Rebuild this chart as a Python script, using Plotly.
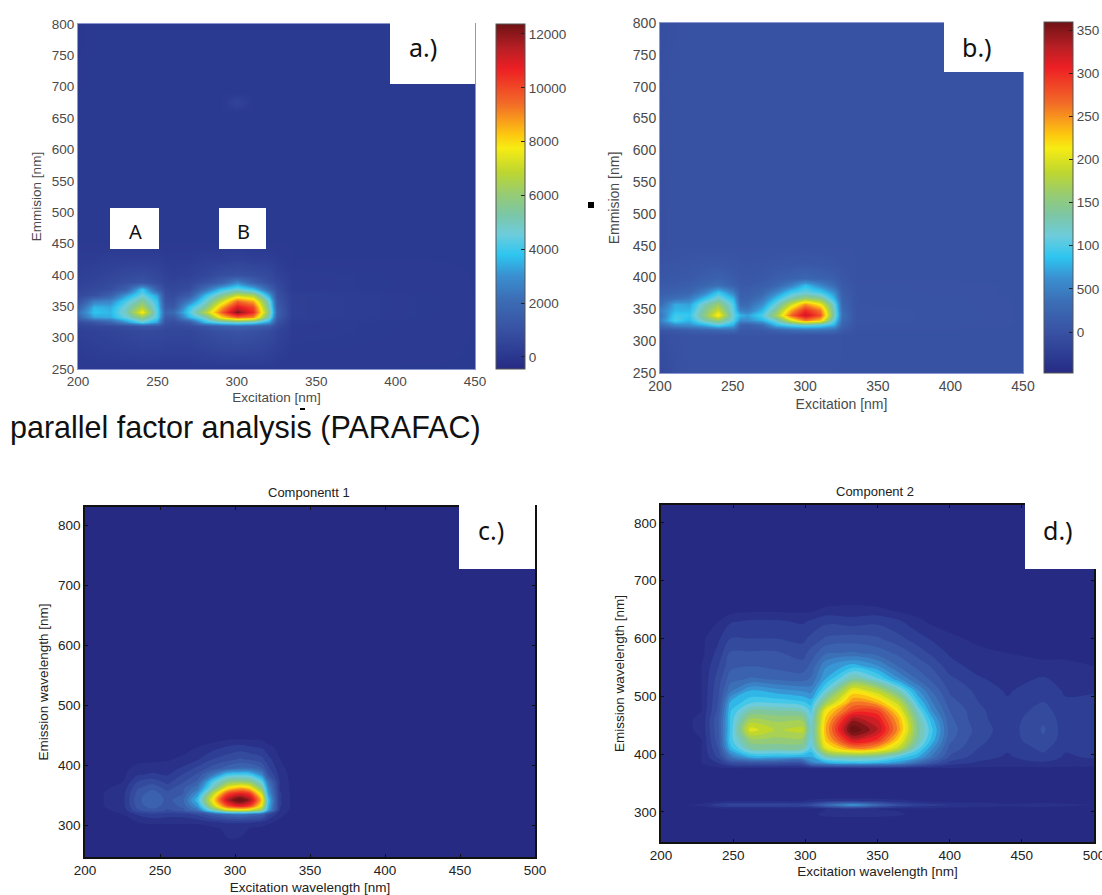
import plotly.graph_objects as go

W, H = 1102, 895

# ---------- colour ramp ----------
RAMP = [[0.00,"#272a83"],[0.04,"#2b3990"],[0.12,"#3953a4"],[0.20,"#3b6db5"],[0.27,"#3a8fd0"],
        [0.33,"#2dc5f0"],[0.39,"#6dccdc"],[0.45,"#7cc6a4"],[0.51,"#98cc70"],[0.57,"#bdd630"],
        [0.64,"#f7ec13"],[0.68,"#fdc70f"],[0.72,"#f99d1c"],[0.77,"#f26a27"],[0.87,"#ed1f24"],
        [0.93,"#b71f25"],[1.00,"#6f1214"]]

# ---------- panel a / b grids ----------
ex_ab = [200,210,220,230,240,250,255,260,270,280,290,300,310,320,325,335,450]
em_ab = [250,310,318,325,333,341,349,358,368,378,388,400,425,450,660,675,690,800]

a_k = [
 [.1]*17,
 [.3,.4,.5,.6,.7,.7,.6,.6,.6,.8,1.0,1.1,1.0,.8,.5,.2,.1],
 [.5,.6,.7,.9,1.2,1.1,.8,.7,.8,1.2,1.6,1.8,1.6,1.3,.7,.2,.1],
 [.8,1.2,1.8,3.0,4.4,3.2,1.0,.9,1.4,3.7,4.6,5.0,4.6,3.2,1.0,.2,.1],
 [1.8,3.3,3.4,4.6,6.0,4.2,1.4,1.3,3.6,5.0,8.0,9.5,9.0,4.8,1.4,.3,.1],
 [2.2,3.8,3.6,5.0,7.8,4.3,1.8,2.0,4.2,6.6,9.5,12.2,10.5,5.5,1.6,.3,.1],
 [1.6,3.6,3.4,4.8,6.6,4.1,1.4,1.3,3.8,5.5,8.6,11.0,10.0,5.0,1.4,.3,.1],
 [1.0,2.6,2.8,4.2,5.6,3.8,1.1,1.0,2.6,4.6,7.0,9.5,8.6,4.6,1.2,.3,.1],
 [.7,1.0,1.6,3.2,4.6,3.2,.9,.8,1.4,3.7,5.4,7.0,6.5,3.3,1.0,.3,.1],
 [.5,.7,.9,1.6,3.9,1.6,.7,.6,.8,2.2,3.8,4.6,3.8,1.8,.8,.2,.1],
 [.4,.5,.7,.9,1.1,.8,.5,.5,.6,1.0,1.6,2.8,1.6,.9,.6,.2,.1],
 [.3,.4,.5,.7,.8,.6,.4,.3,.4,.6,.9,1.0,.9,.7,.4,.2,.1],
 [.2,.2,.3,.3,.3,.3,.2,.2,.2,.3,.3,.4,.3,.3,.2,.1,.1],
 [.1]*17,
 [.1]*17,
 [.1,.1,.1,.1,.1,.1,.1,.1,.1,.1,.1,.5,.1,.1,.1,.1,.1],
 [.1]*17,
 [.0,.1,.1,.1,.1,.1,.1,.1,.1,.1,.1,.1,.1,.1,.1,.1,.1],
]

b_k = [
 [-.1,-.03,0,0,0,0,0,0,0,0,0,0,0,0,0,0,0],
 [-.05,0,.02,.02,.02,.02,.02,.02,.02,.02,.02,.02,.02,.02,0,0,0],
 [.05,.1,.15,.2,.25,.3,.1,.08,.1,.2,.3,.35,.35,.3,.1,0,0],
 [.3,.55,.6,.75,1.0,.75,.2,.15,.3,.8,1.0,1.1,1.0,.75,.2,.02,0],
 [.5,1.0,.8,1.3,1.6,1.05,.6,.6,.8,1.2,2.0,2.6,2.3,1.05,.3,.03,0],
 [.4,.95,.9,1.5,2.2,1.1,.8,.7,1.0,1.7,2.7,3.25,2.8,1.25,.35,.03,0],
 [.5,.8,.8,1.4,1.9,1.05,.5,.45,.8,1.45,2.4,3.0,2.6,1.2,.3,.03,0],
 [.3,.75,.7,1.25,1.6,1.0,.3,.3,.6,1.15,1.9,2.5,2.1,1.1,.25,.02,0],
 [.25,.35,.45,.85,1.2,.8,.2,.2,.4,.85,1.3,1.6,1.45,.8,.2,.02,0],
 [.15,.2,.25,.5,.9,.5,.15,.15,.25,.55,.95,1.1,.95,.6,.15,.01,0],
 [.1,.12,.15,.25,.35,.2,.1,.1,.15,.25,.5,.85,.55,.3,.1,.01,0],
 [.05,.08,.1,.15,.2,.12,.07,.06,.08,.15,.2,.25,.2,.15,.05,0,0],
 [.02,.03,.04,.05,.05,.04,.03,.02,.03,.04,.05,.06,.05,.03,.02,0,0],
 [-.03,0,0,0,0,0,0,0,0,0,0,0,0,0,0,0,0],
 [-.02,0,0,0,0,0,0,0,0,0,0,0,0,0,0,0,0],
 [-.03,0,0,0,0,0,0,0,0,0,0,0,0,0,0,0,0],
 [-.02,0,0,0,0,0,0,0,0,0,0,0,0,0,0,0,0],
 [-.05,-.02,0,0,0,0,0,0,0,0,0,0,0,0,0,0,0],
]

# ---------- panel c ----------
ex_c = [200,225,235,245,255,265,275,285,295,303,310,318,322,330,340,500]
em_c = [247,295,305,318,325,332,342,352,362,372,385,395,410,430,445,460,830]
c_z = [
 [0]*16,
 [0,0,0,0,0,0,0,.01,.03,.03,.02,.01,0,0,0,0],
 [0,0,.02,.03,.03,.03,.03,.05,.06,.06,.06,.05,.03,.01,0,0],
 [0,.02,.06,.08,.07,.07,.1,.15,.2,.22,.2,.17,.1,.03,0,0],
 [0,.03,.12,.15,.12,.15,.22,.42,.58,.6,.58,.48,.3,.05,0,0],
 [0,.04,.14,.18,.14,.17,.28,.55,.78,.85,.8,.6,.33,.06,0,0],
 [0,.04,.15,.19,.15,.18,.33,.62,.9,1.0,.92,.66,.35,.06,0,0],
 [0,.04,.14,.18,.14,.16,.28,.55,.8,.86,.82,.58,.3,.06,0,0],
 [0,.03,.12,.15,.11,.15,.22,.42,.62,.68,.64,.46,.27,.05,0,0],
 [0,.02,.09,.11,.08,.12,.17,.36,.48,.5,.48,.38,.22,.05,0,0],
 [0,.01,.05,.06,.05,.09,.13,.22,.34,.35,.34,.25,.13,.04,0,0],
 [0,.01,.03,.04,.04,.06,.1,.14,.18,.2,.2,.16,.1,.03,0,0],
 [0,0,.01,.01,.015,.03,.05,.09,.11,.13,.12,.1,.07,.02,0,0],
 [0,0,0,0,0,0,.02,.04,.06,.07,.06,.05,.03,.01,0,0],
 [0,0,0,0,0,0,0,0,.01,.015,.01,.01,0,0,0,0],
 [0]*16,
 [0]*16,
]

# ---------- panel d ----------
ex_d = [200,228,240,248,262,280,298,304,314,333,350,365,378,388,400,420,440,465,480,500]
em_d = [248,288,296,305,312,319,326,375,385,395,410,425,442,460,475,490,510,530,552,575,600,630,650,665,831]
d_z = [
 [0]*20,
 [0]*20,
 [0,0,0,0,0,0,0,0,.04,.05,.05,.03,0,0,0,0,0,0,0,0],
 [0,0,.01,.01,.01,.01,.01,.01,.02,.03,.02,.01,.01,.01,0,0,0,0,0,0],
 [0,.03,.08,.1,.1,.1,.1,.12,.2,.3,.2,.12,.08,.07,.06,.05,.03,.04,.03,.02],
 [0,0,.01,.02,.02,.02,.02,.03,.05,.06,.05,.03,.02,.01,0,0,0,0,0,0],
 [0]*20,
 [0,0,.01,.015,.015,.015,.015,.015,.02,.02,.02,.02,.015,.015,.015,.01,.01,.01,.01,.01],
 [0,.02,.06,.12,.14,.14,.14,.25,.30,.33,.32,.28,.2,.14,.08,.05,.04,.05,.04,.04],
 [0,.02,.1,.22,.31,.31,.3,.3,.42,.45,.43,.36,.3,.22,.12,.07,.05,.08,.05,.06],
 [0,.02,.13,.32,.44,.45,.44,.36,.6,.72,.68,.56,.38,.27,.15,.09,.06,.1,.06,.08],
 [0,.02,.15,.35,.5,.5,.5,.38,.66,.88,.82,.64,.44,.32,.17,.1,.07,.12,.07,.09],
 [0,.025,.16,.34,.6,.54,.56,.4,.68,1.0,.9,.7,.46,.34,.18,.11,.07,.13,.07,.09],
 [0,.025,.16,.34,.52,.5,.5,.38,.66,.92,.86,.68,.44,.31,.17,.1,.07,.12,.07,.09],
 [0,.02,.14,.33,.44,.44,.42,.36,.62,.8,.8,.62,.4,.26,.16,.1,.06,.11,.06,.08],
 [0,.02,.13,.3,.36,.36,.34,.32,.5,.72,.68,.55,.34,.23,.14,.09,.06,.09,.06,.07],
 [0,.02,.12,.22,.3,.28,.26,.25,.38,.62,.55,.42,.27,.19,.12,.08,.05,.08,.05,.05],
 [0,.02,.11,.18,.2,.19,.18,.2,.3,.45,.38,.27,.19,.15,.1,.06,.04,.06,.04,.04],
 [0,.02,.09,.15,.16,.15,.14,.17,.26,.32,.27,.19,.15,.12,.07,.04,.03,.03,.03,.02],
 [0,.01,.07,.13,.13,.13,.11,.14,.19,.2,.18,.15,.11,.08,.05,.03,.02,.01,.01,.01],
 [0,.01,.05,.09,.09,.09,.08,.1,.13,.14,.13,.1,.07,.05,.03,.01,0,0,0,0],
 [0,0,.02,.05,.06,.06,.05,.06,.08,.07,.08,.06,.03,.01,0,0,0,0,0,0],
 [0,0,0,0,.01,.01,.01,.01,.03,.03,.03,.01,0,0,0,0,0,0,0,0],
 [0,0,0,0,0,0,0,0,0,.01,0,0,0,0,0,0,0,0,0,0],
 [0]*20,
]

cbar_a_ticks = [0,2000,4000,6000,8000,10000,12000]
cbar_b_ticks = [0,500,1000,1500,2000,2500,3000,3500]
cbar_b_labels = ["0","500","100","150","200","250","300","350"]
ticks_ab_y = list(range(250,801,50))
ticks_ab_x = list(range(200,451,50))
ticks_cd_y = list(range(300,801,100))
ticks_cd_x = list(range(200,501,50))

def fx(p): return p/W
def fy(p): return 1-p/H

FONT = "Liberation Sans, Arial, sans-serif"
GREY = "#4a4a4a"
DARK = "#222222"
BORDER = "#8a97d0"

fig = go.Figure()

def scale(rows, k=1000):
    return [[v*k for v in r] for r in rows]

def cbar(x0,y0,length,ticks,labels=None):
    d = dict(x=fx(x0), xanchor="left", y=fy(y0), yanchor="top", len=length/H, lenmode="fraction",
             thickness=29, thicknessmode="pixels", xpad=0, ypad=0, outlinecolor="#555", outlinewidth=1,
             tickmode="array", tickvals=ticks, tickformat="d", ticks="inside", ticklen=4, tickcolor="#222",
             tickfont=dict(family=FONT, size=13.5, color=GREY))
    if labels:
        d["ticktext"] = labels
    return d

fig.add_trace(go.Heatmap(x=ex_ab, y=em_ab, z=scale(a_k), zsmooth="best", colorscale=RAMP,
    zmin=-446, zmax=12370, xaxis="x", yaxis="y", hoverinfo="skip", colorbar=cbar(496,24,345,cbar_a_ticks)))
fig.add_trace(go.Heatmap(x=ex_ab, y=em_ab, z=scale(b_k), zsmooth="best", colorscale=RAMP,
    zmin=-475, zmax=3593, xaxis="x2", yaxis="y2", hoverinfo="skip", colorbar=cbar(1044,22,351,cbar_b_ticks,cbar_b_labels)))
fig.add_trace(go.Contour(x=ex_c, y=em_c, z=c_z, colorscale=RAMP, zmin=0, zmax=1, showscale=False,
    contours=dict(coloring="fill", start=.02, end=1, size=.035, showlines=False), line=dict(width=0),
    line_smoothing=1, xaxis="x3", yaxis="y3", hoverinfo="skip"))
fig.add_trace(go.Contour(x=ex_d, y=em_d, z=d_z, colorscale=RAMP, zmin=0, zmax=1, showscale=False,
    contours=dict(coloring="fill", start=.02, end=1, size=.035, showlines=False), line=dict(width=0),
    line_smoothing=1, xaxis="x4", yaxis="y4", hoverinfo="skip"))

def ab_axes(x0,x1,y0,y1,anchor_x,anchor_y,rx,ry,xt,yt,standoff_x,standoff_y,size):
    fnt = dict(family=FONT, size=size, color=GREY)
    com = dict(ticks="", showgrid=False, zeroline=False, tickfont=fnt, showline=True, linecolor=BORDER, linewidth=1, mirror=True)
    xa = dict(domain=[fx(x0),fx(x1)], range=rx, anchor=anchor_y, tickvals=ticks_ab_x,
              title=dict(text=xt, font=fnt, standoff=standoff_x), **com)
    ya = dict(domain=[fy(y1),fy(y0)], range=ry, anchor=anchor_x, tickvals=ticks_ab_y,
              title=dict(text=yt, font=fnt, standoff=standoff_y), **com)
    return xa, ya

def cd_axes(x0,x1,y0,y1,anchor_x,anchor_y,rx,ry,sx):
    fnt = dict(family=FONT, size=13.5, color=DARK)
    com = dict(showgrid=False, zeroline=False, ticks="inside", ticklen=3, tickcolor="#111", showline=True,
               linecolor="#111", linewidth=1.5, mirror="ticks", tickfont=fnt, ticklabeloverflow="allow")
    xa = dict(domain=[fx(x0),fx(x1)], range=rx, anchor=anchor_y, tickvals=ticks_cd_x,
              title=dict(text="Excitation wavelength [nm]", font=fnt, standoff=sx), **com)
    ya = dict(domain=[fy(y1),fy(y0)], range=ry, anchor=anchor_x, tickvals=ticks_cd_y,
              title=dict(text="Emission wavelength [nm]", font=fnt, standoff=6), **com)
    return xa, ya

xa1,ya1 = ab_axes(78,475,24,369,"x","y",[200,450],[250,800],"Excitation [nm]","Emmision [nm]",4,7,13.5)
xa2,ya2 = ab_axes(660,1023,23,373,"x2","y2",[200,450],[250,800],"Excitation [nm]","Emmision [nm]",6,9,14)
xa3,ya3 = cd_axes(85,535,507,857,"x3","y3",[200,500],[247,830],7)
xa4,ya4 = cd_axes(661,1094,505,842,"x4","y4",[200,500],[248,831],5)

def box(x0,y0,x1,y1,fill="white"):
    return dict(type="rect", xref="paper", yref="paper", x0=fx(x0), x1=fx(x1), y0=fy(y1), y1=fy(y0),
                fillcolor=fill, line=dict(width=0), layer="above")

shapes = [box(390,22,475,84), box(944,20,1025,72), box(459,505,535,569), box(1025,503,1096,569),
          box(110,208,159,249), box(219,208,266,249), box(588,202,594,208,"black"), box(300,408,305,410,"black")]

def note(x,y,text,size,family="Noto Sans, sans-serif",color="#111"):
    return dict(xref="paper", yref="paper", x=fx(x), y=fy(y), text=text, showarrow=False,
                xanchor="center", yanchor="middle", font=dict(family=family,size=size,color=color))

notes = [note(423,47,"a.)",25), note(977,47,"b.)",25), note(491,530,"c.)",25), note(1058,530,"d.)",25),
         note(135,231,"A",20), note(243,231,"B",20),
         note(245.5,428,"parallel factor analysis (PARAFAC)",30.5,FONT),
         note(309,492,"Componentt 1",13,FONT,DARK), note(875,491,"Component 2",13,FONT,DARK)]

fig.update_layout(width=W, height=H, margin=dict(l=0,r=0,t=0,b=0,autoexpand=False), paper_bgcolor="white", plot_bgcolor="white",
    xaxis=xa1, yaxis=ya1, xaxis2=xa2, yaxis2=ya2, xaxis3=xa3, yaxis3=ya3, xaxis4=xa4, yaxis4=ya4,
    shapes=shapes, annotations=notes, showlegend=False)

fig.write_html("out.html", config=dict(displayModeBar=False),
               post_script="document.body.style.margin='0';document.body.style.overflow='hidden';")
